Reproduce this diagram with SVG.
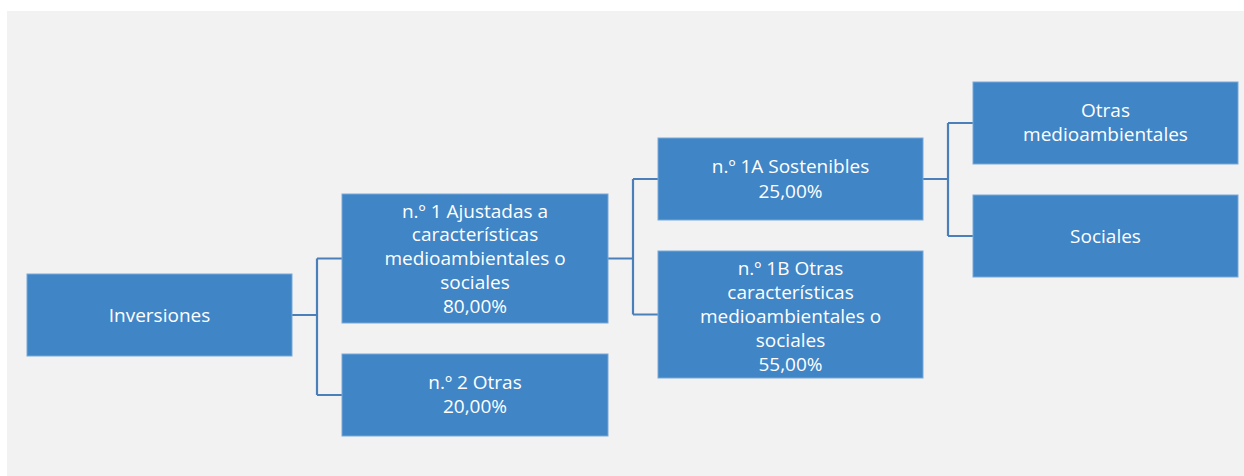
<svg xmlns="http://www.w3.org/2000/svg" width="1244" height="476" viewBox="0 0 1244 476">
<style>
.bg{fill:#f2f2f2}
.box{fill:#4085c6;stroke:#79a7d8;stroke-width:1}
.lbl{font-family:"Open Sans","Liberation Sans",sans-serif;font-size:19px;fill:#ffffff;text-anchor:middle}
.con{fill:none;stroke:#4a7fba;stroke-width:2.2}
</style>
<rect width="1244" height="476" fill="#ffffff"/>
<rect class="bg" x="7" y="11" width="1237" height="465"/>
<g id="connectors">
<path class="con" d="M292 315 H317 M317 258.5 V395 M317 258.5 H342 M317 395 H342"/>
<path class="con" d="M608 258.5 H633 M633 179 V314.5 M633 179 H658 M633 314.5 H658"/>
<path class="con" d="M923 179 H948 M948 123 V236 M948 123 H973 M948 236 H973"/>
</g>
<g id="inversiones">
<rect class="box" x="27" y="274" width="265" height="82"/>
<text class="lbl" x="159.5" y="322">Inversiones</text>
</g>
<g id="n1">
<rect class="box" x="342" y="194" width="266" height="129"/>
<text class="lbl" x="475" y="217.5">n.º 1 Ajustadas a</text>
<text class="lbl" x="475" y="241.3">características</text>
<text class="lbl" x="475" y="265.1">medioambientales o</text>
<text class="lbl" x="475" y="288.9">sociales</text>
<text class="lbl" x="475" y="312.7">80,00%</text>
</g>
<g id="n2">
<rect class="box" x="342" y="354" width="266" height="82"/>
<text class="lbl" x="475" y="388.8">n.º 2 Otras</text>
<text class="lbl" x="475" y="412.8">20,00%</text>
</g>
<g id="n1A">
<rect class="box" x="658" y="138" width="265" height="82"/>
<text class="lbl" x="790.5" y="173.3">n.º 1A Sostenibles</text>
<text class="lbl" x="790.5" y="197.5">25,00%</text>
</g>
<g id="n1B">
<rect class="box" x="658" y="251" width="265" height="127"/>
<text class="lbl" x="790.5" y="274.5">n.º 1B Otras</text>
<text class="lbl" x="790.5" y="298.5">características</text>
<text class="lbl" x="790.5" y="322.5">medioambientales o</text>
<text class="lbl" x="790.5" y="346.5">sociales</text>
<text class="lbl" x="790.5" y="370.5">55,00%</text>
</g>
<g id="otras">
<rect class="box" x="973" y="82" width="265" height="82"/>
<text class="lbl" x="1105.5" y="116.8">Otras</text>
<text class="lbl" x="1105.5" y="141">medioambientales</text>
</g>
<g id="sociales">
<rect class="box" x="973" y="195" width="265" height="82"/>
<text class="lbl" x="1105.5" y="243">Sociales</text>
</g>
</svg>
